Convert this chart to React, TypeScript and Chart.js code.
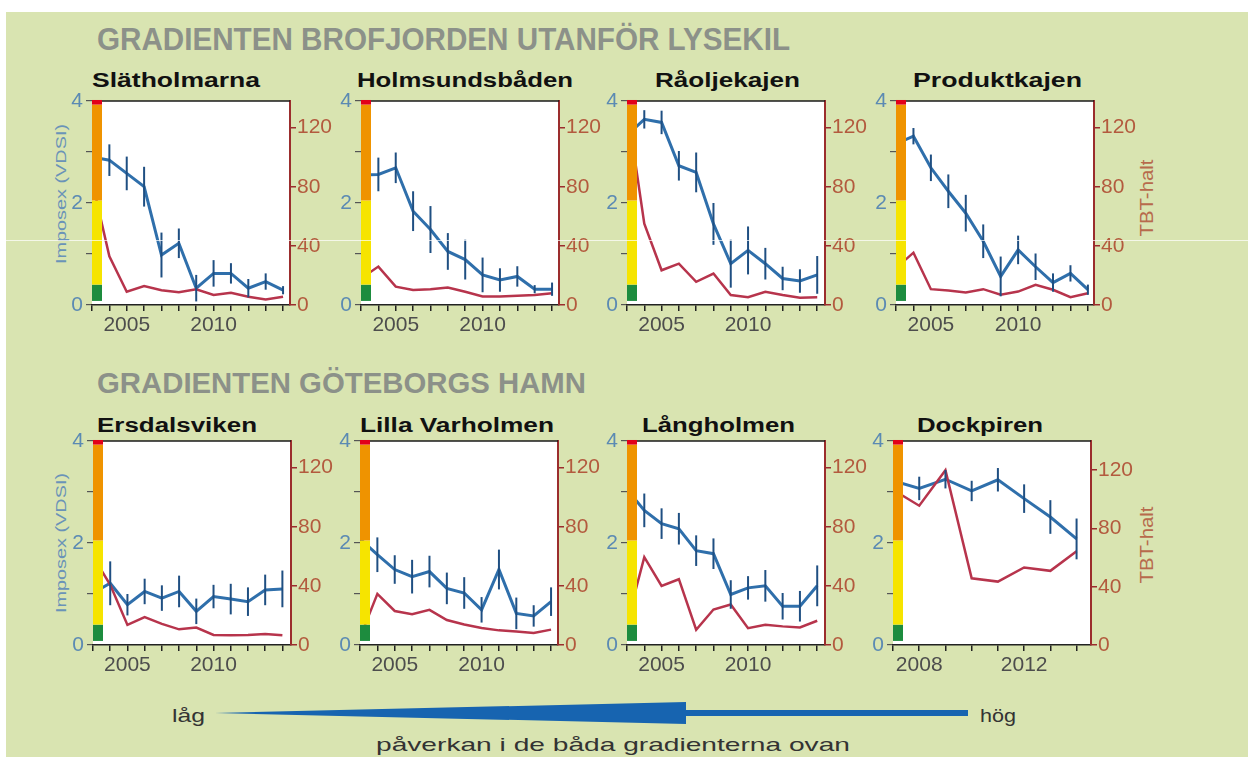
import React, { useEffect, useRef } from "react";
import { Chart, registerables } from "chart.js";

Chart.register(...registerables);

const FONT = "'Liberation Sans', Arial, sans-serif";
Chart.defaults.font.family = FONT;

// ---------- data ----------
const yearsA = [2003, 2004, 2005, 2006, 2007, 2008, 2009, 2010, 2011, 2012, 2013, 2014];
const yearsB = [2007, 2008, 2009, 2010, 2011, 2012, 2013, 2014];
const xLabelsA = [2005, 2010];
const xLabelsB = [2008, 2012];
const vdsiTicks = [0, 1, 2, 3, 4];
const vdsiLabels = [0, 2, 4];
const tbtTicks = [0, 40, 80, 120];

// VDSI classification band: [from, to]
const bandLevels = [
  [0.08, 0.4],
  [0.4, 2.05],
  [2.05, 3.93],
  [3.93, 4.02],
];
const bandColors = ["#1d8c3e", "#f6e400", "#ef9300", "#e2001a"];

const slatholmarnaImposex = [2.9, 2.84, 2.58, 2.32, 0.98, 1.21, 0.33, 0.62, 0.62, 0.33, 0.46, 0.29];
const slatholmarnaErr = [0.3, 0.31, 0.33, 0.39, 0.44, 0.29, 0.26, 0.26, 0.2, 0.18, 0.16, 0.08];
const slatholmarnaTbt = [84, 33, 9, 12.8, 10, 8.6, 10.6, 6.8, 8.3, 5.6, 3.8, 5.6];

const holmsundImposex = [2.55, 2.56, 2.69, 1.84, 1.48, 1.05, 0.89, 0.59, 0.49, 0.56, 0.31, 0.31];
const holmsundErr = [0.3, 0.33, 0.3, 0.39, 0.46, 0.36, 0.39, 0.34, 0.23, 0.2, 0.08, 0.13];
const holmsundTbt = [18, 26, 12.4, 10.2, 10.6, 11.8, 9, 5.7, 5.7, 6.3, 6.8, 7.9];

const raoljeImposex = [3.33, 3.64, 3.58, 2.73, 2.6, 1.59, 0.81, 1.07, 0.81, 0.52, 0.47, 0.59];
const raoljeErr = [0.2, 0.18, 0.23, 0.29, 0.39, 0.41, 0.47, 0.47, 0.31, 0.23, 0.23, 0.37];
const raoljeTbt = [135, 55, 23.5, 28, 15.7, 21.3, 6.7, 5.2, 9, 6.7, 4.9, 5.2];

const produktImposex = [3.16, 3.31, 2.69, 2.23, 1.8, 1.25, 0.56, 1.08, 0.75, 0.44, 0.62, 0.3];
const produktErr = [0.2, 0.16, 0.26, 0.33, 0.36, 0.33, 0.39, 0.28, 0.26, 0.18, 0.16, 0.1];
const produktTbt = [25, 35.4, 10.7, 9.8, 8.5, 10.7, 6.9, 9.1, 13.7, 10.3, 5.3, 8];

const ersdalImposex = [1.02, 1.21, 0.79, 1.05, 0.92, 1.05, 0.66, 0.95, 0.9, 0.85, 1.08, 1.1];
const ersdalErr = [0.3, 0.43, 0.21, 0.25, 0.25, 0.31, 0.25, 0.23, 0.3, 0.28, 0.3, 0.36];
const ersdalTbt = [60, 40.7, 13.6, 18.8, 14.3, 10.6, 11.8, 6.8, 6.6, 6.8, 7.5, 6.6];

const varholmenImposex = [2.08, 1.77, 1.48, 1.34, 1.44, 1.11, 1.02, 0.69, 1.48, 0.62, 0.57, 0.85];
const varholmenErr = [0.3, 0.34, 0.28, 0.33, 0.31, 0.31, 0.31, 0.25, 0.39, 0.31, 0.21, 0.28];
const varholmenTbt = [5, 34.6, 23, 20.8, 23.8, 16.9, 13.9, 11.5, 9.9, 9.2, 8.1, 10.4];

const langholmenImposex = [3.05, 2.64, 2.38, 2.28, 1.85, 1.79, 0.99, 1.12, 1.16, 0.76, 0.76, 1.16];
const langholmenErr = [0.3, 0.33, 0.3, 0.31, 0.3, 0.3, 0.28, 0.23, 0.31, 0.26, 0.3, 0.4];
const langholmenTbt = [15, 59.4, 40, 44.5, 10.3, 24, 27.4, 11.4, 13.7, 12.6, 11.9, 16.4];

const dockpirenImposex = [3.22, 3.07, 3.25, 3.02, 3.24, 2.87, 2.51, 2.08];
const dockpirenErr = [0.2, 0.23, 0.18, 0.2, 0.23, 0.28, 0.33, 0.4];
const dockpirenTbt = [106.5, 95.6, 120, 45.8, 43.5, 53.2, 50.9, 64.4];

// ---------- layout ----------
const PAD_L = 45;
const PAD_R = 50;
const PAD_T = 16;
const PAD_B = 36;
const AREA_W = 198;
const AREA_H = 204;
const CW = PAD_L + AREA_W + PAD_R;
const CH = PAD_T + AREA_H + PAD_B;
const BAND_W = 10;

type PanelDef = {
  title: string;
  years: number[];
  imposex: number[];
  err: number[];
  tbt: number[];
  xMin: number;
  xMax: number;
  xLabels: number[];
  tbtMax: number;
  left: number;
  top: number;
};

const panels: PanelDef[] = [
  { title: "Slätholmarna", years: yearsA, imposex: slatholmarnaImposex, err: slatholmarnaErr, tbt: slatholmarnaTbt, xMin: 2003, xMax: 2014.4, xLabels: xLabelsA, tbtMax: 138, left: 92, top: 101 },
  { title: "Holmsundsbåden", years: yearsA, imposex: holmsundImposex, err: holmsundErr, tbt: holmsundTbt, xMin: 2003, xMax: 2014.4, xLabels: xLabelsA, tbtMax: 138, left: 361, top: 101 },
  { title: "Råoljekajen", years: yearsA, imposex: raoljeImposex, err: raoljeErr, tbt: raoljeTbt, xMin: 2003, xMax: 2014.45, xLabels: xLabelsA, tbtMax: 138, left: 627, top: 101 },
  { title: "Produktkajen", years: yearsA, imposex: produktImposex, err: produktErr, tbt: produktTbt, xMin: 2003, xMax: 2014.35, xLabels: xLabelsA, tbtMax: 138, left: 896, top: 101 },
  { title: "Ersdalsviken", years: yearsA, imposex: ersdalImposex, err: ersdalErr, tbt: ersdalTbt, xMin: 2003, xMax: 2014.5, xLabels: xLabelsA, tbtMax: 138, left: 93, top: 441 },
  { title: "Lilla Varholmen", years: yearsA, imposex: varholmenImposex, err: varholmenErr, tbt: varholmenTbt, xMin: 2003, xMax: 2014.4, xLabels: xLabelsA, tbtMax: 138, left: 360, top: 441 },
  { title: "Långholmen", years: yearsA, imposex: langholmenImposex, err: langholmenErr, tbt: langholmenTbt, xMin: 2003, xMax: 2014.45, xLabels: xLabelsA, tbtMax: 138, left: 627, top: 441 },
  { title: "Dockpiren", years: yearsB, imposex: dockpirenImposex, err: dockpirenErr, tbt: dockpirenTbt, xMin: 2007, xMax: 2014.55, xLabels: xLabelsB, tbtMax: 140, left: 893, top: 441 },
];

const decoPlugin = {
  id: "panelDeco",
  beforeDraw(chart: any) {
    const { ctx, chartArea: a } = chart;
    ctx.save();
    ctx.fillStyle = "#ffffff";
    ctx.fillRect(a.left, a.top, a.right - a.left, a.bottom - a.top);
    ctx.restore();
  },
  afterDatasetsDraw(chart: any, _args: any, opts: any) {
    const { ctx, chartArea: a } = chart;
    const xs = chart.scales.x;
    const ys = chart.scales.y;
    ctx.save();
    ctx.beginPath();
    ctx.rect(a.left, a.top - 2, a.right - a.left, a.bottom - a.top + 4);
    ctx.clip();
    // error bars
    ctx.strokeStyle = "#1f4f82";
    ctx.lineWidth = 2;
    opts.years.forEach((yr: number, i: number) => {
      const x = xs.getPixelForValue(yr);
      const v = opts.values[i];
      const e = opts.err[i];
      ctx.beginPath();
      ctx.moveTo(x, ys.getPixelForValue(v - e));
      ctx.lineTo(x, ys.getPixelForValue(v + e));
      ctx.stroke();
    });
    ctx.restore();
    // top frame line
    ctx.save();
    ctx.strokeStyle = "#1a1a1a";
    ctx.lineWidth = 1.5;
    ctx.beginPath();
    ctx.moveTo(a.left, a.top);
    ctx.lineTo(a.right, a.top);
    ctx.stroke();
    // classification band
    bandLevels.forEach((lv, i) => {
      const y1 = ys.getPixelForValue(lv[1]);
      const y0 = ys.getPixelForValue(lv[0]);
      ctx.fillStyle = bandColors[i];
      ctx.fillRect(a.left, y1, BAND_W, y0 - y1);
    });
    ctx.restore();
  },
};

function makeChart(canvas: HTMLCanvasElement, p: PanelDef) {
  const tickFont = { size: 21, family: FONT };
  return new Chart(canvas, {
    type: "line",
    data: {
      datasets: [
        {
          label: "TBT-halt",
          data: p.years.map((x, i) => ({ x, y: p.tbt[i] })),
          yAxisID: "y2",
          borderColor: "#b7344c",
          borderWidth: 2.5,
          pointRadius: 0,
          tension: 0,
          order: 0,
        },
        {
          label: "Imposex (VDSI)",
          data: p.years.map((x, i) => ({ x, y: p.imposex[i] })),
          yAxisID: "y",
          borderColor: "#2f6fab",
          borderWidth: 3,
          pointRadius: 0,
          tension: 0,
          order: 1,
        },
      ],
    },
    options: {
      responsive: false,
      animation: false,
      devicePixelRatio: 1,
      layout: { padding: { top: PAD_T, left: 0, right: 0, bottom: 0 } },
      plugins: {
        legend: { display: false },
        tooltip: { enabled: false },
        panelDeco: { years: p.years, values: p.imposex, err: p.err },
      } as any,
      scales: {
        x: {
          type: "linear",
          position: "bottom",
          min: p.xMin,
          max: p.xMax,
          afterBuildTicks: (axis: any) => {
            axis.ticks = p.years.map((v) => ({ value: v }));
          },
          afterFit: (axis: any) => {
            axis.height = PAD_B;
          },
          ticks: {
            autoSkip: false,
            maxRotation: 0,
            padding: 2,
            font: tickFont,
            color: "#4d4d4d",
            callback: (v: any) => (p.xLabels.includes(Number(v)) ? String(v) : ""),
          },
          grid: { drawOnChartArea: false, drawTicks: true, tickLength: 6, color: "#222", lineWidth: 1.5 },
          border: { display: true, color: "#222", width: 1.5 },
        },
        y: {
          type: "linear",
          position: "left",
          min: 0,
          max: 4,
          afterBuildTicks: (axis: any) => {
            axis.ticks = vdsiTicks.map((v) => ({ value: v }));
          },
          afterFit: (axis: any) => {
            axis.width = PAD_L;
          },
          ticks: {
            padding: 3,
            font: tickFont,
            color: "#5b8ab3",
            callback: (v: any) => (vdsiLabels.includes(Number(v)) ? String(v) : ""),
          },
          grid: { drawOnChartArea: false, drawTicks: true, tickLength: 6, color: "#555", lineWidth: 1.2 },
          border: { display: false },
        },
        y2: {
          type: "linear",
          position: "right",
          min: 0,
          max: p.tbtMax,
          afterBuildTicks: (axis: any) => {
            axis.ticks = tbtTicks.map((v) => ({ value: v }));
          },
          afterFit: (axis: any) => {
            axis.width = PAD_R;
          },
          ticks: { padding: 1, font: tickFont, color: "#b35a3e" },
          grid: { drawOnChartArea: false, drawTicks: true, tickLength: 6, color: "#9b2d2d", lineWidth: 1.5 },
          border: { display: true, color: "#9b2d2d", width: 2 },
        },
      },
    } as any,
    plugins: [decoPlugin as any],
  });
}

function Panel({ p }: { p: PanelDef }) {
  const ref = useRef<HTMLCanvasElement>(null);
  useEffect(() => {
    const chart = makeChart(ref.current as HTMLCanvasElement, p);
    return () => chart.destroy();
  }, [p]);
  return (
    <canvas
      ref={ref}
      width={CW}
      height={CH}
      style={{ position: "absolute", left: p.left - PAD_L, top: p.top - PAD_T, width: CW, height: CH }}
    />
  );
}

const titleSpans: [number, number, number][] = [
  [92, 168, 87],
  [357, 216, 87],
  [655, 145, 87],
  [913, 169, 87],
  [97, 160, 432],
  [360, 194, 432],
  [642, 153, 432],
  [917, 126, 432],
];

export default function App() {
  return (
    <div style={{ position: "absolute", left: 0, top: 0, width: 1248, height: 757, background: "#fff", overflow: "hidden" }}>
      <div style={{ position: "absolute", left: 6, top: 12, right: 0, bottom: 0, background: "#d9e4b1" }} />
      <svg width={1248} height={757} style={{ position: "absolute", left: 0, top: 0 }} fontFamily={FONT}>
        <text x={97} y={50} fontSize={31} fontWeight="bold" fill="#8c9189" textLength={693} lengthAdjust="spacingAndGlyphs">
          GRADIENTEN BROFJORDEN UTANFÖR LYSEKIL
        </text>
        <text x={97} y={393} fontSize={30} fontWeight="bold" fill="#8c9189" textLength={489} lengthAdjust="spacingAndGlyphs">
          GRADIENTEN GÖTEBORGS HAMN
        </text>
        {panels.map((p, i) => (
          <text
            key={p.title}
            x={titleSpans[i][0]}
            y={titleSpans[i][2]}
            fontSize={20}
            fontWeight="bold"
            fill="#111"
            textLength={titleSpans[i][1]}
            lengthAdjust="spacingAndGlyphs"
          >
            {p.title}
          </text>
        ))}
        {[194, 543].map((cy) => (
          <text
            key={"imp" + cy}
            x={66}
            y={cy}
            fontSize={15}
            fill="#6a93b8"
            textAnchor="middle"
            transform={`rotate(-90 66 ${cy})`}
            textLength={140}
            lengthAdjust="spacingAndGlyphs"
          >
            Imposex (VDSI)
          </text>
        ))}
        {[198, 545].map((cy) => (
          <text
            key={"tbt" + cy}
            x={1153}
            y={cy}
            fontSize={19}
            fill="#b76a4c"
            textAnchor="middle"
            transform={`rotate(-90 1153 ${cy})`}
            textLength={77}
            lengthAdjust="spacingAndGlyphs"
          >
            TBT-halt
          </text>
        ))}
        <polygon points="215,713 686,702 686,724" fill="#1764b0" />
        <rect x={684} y={710} width={284} height={6} fill="#1764b0" />
        <text x={172} y={722} fontSize={19} fill="#333" textLength={33} lengthAdjust="spacingAndGlyphs">
          låg
        </text>
        <text x={980} y={722} fontSize={19} fill="#333" textLength={36} lengthAdjust="spacingAndGlyphs">
          hög
        </text>
        <text x={376} y={751} fontSize={19} fill="#333" textLength={474} lengthAdjust="spacingAndGlyphs">
          påverkan i de båda gradienterna ovan
        </text>
      </svg>
      {panels.map((p) => (
        <Panel key={p.title} p={p} />
      ))}
      <div style={{ position: "absolute", left: 0, top: 240, width: 1248, height: 1, background: "rgba(255,255,255,0.7)" }} />
    </div>
  );
}
